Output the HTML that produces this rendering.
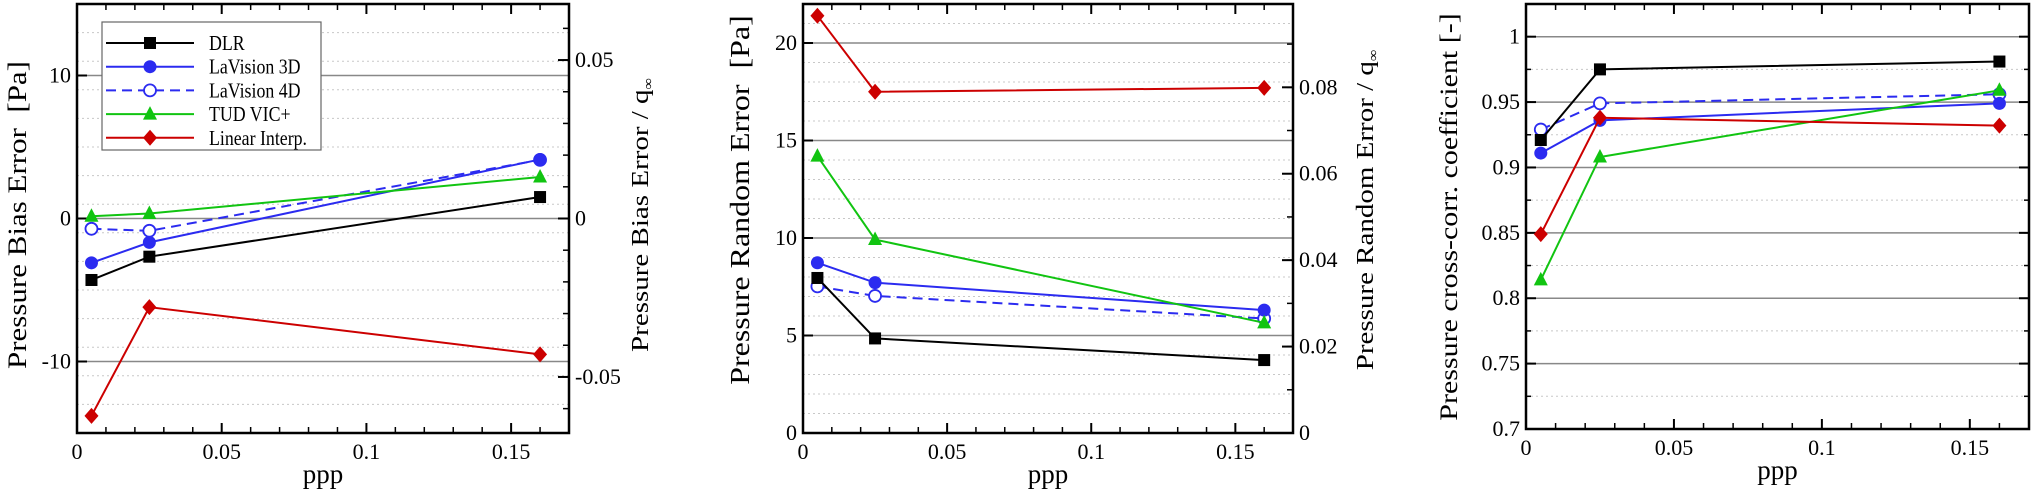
<!DOCTYPE html>
<html><head><meta charset="utf-8">
<style>
html,body{margin:0;padding:0;background:#fff;}
svg{display:block;font-family:"Liberation Serif","DejaVu Serif",serif;}
</style></head>
<body>
<svg id="fig" width="2032" height="489" viewBox="0 0 2032 489" xmlns="http://www.w3.org/2000/svg"></svg>
<script>
const ppp = [0.005, 0.025, 0.16];
const seriesNames = ["DLR","LaVision 3D","LaVision 4D","TUD VIC+","Linear Interp."];
// Panel 1: bias error [Pa]
const biasDLR = [-4.3, -2.67, 1.5];
const biasLa3D = [-3.1, -1.67, 4.13];
const biasLa4D = [-0.72, -0.86, 4.1];
const biasTUD = [0.16, 0.35, 2.9];
const biasLin = [-13.8, -6.2, -9.5];
// Panel 2: random error [Pa]
const randDLR = [7.95, 4.85, 3.74];
const randLa3D = [8.73, 7.71, 6.3];
const randLa4D = [7.52, 7.03, 5.87];
const randTUD = [14.2, 9.92, 5.65];
const randLin = [21.4, 17.5, 17.7];
// Panel 3: cross-correlation
const corrDLR = [0.921, 0.975, 0.981];
const corrLa3D = [0.911, 0.936, 0.949];
const corrLa4D = [0.929, 0.949, 0.956];
const corrTUD = [0.814, 0.908, 0.959];
const corrLin = [0.849, 0.938, 0.932];
const xTicks = ["0","0.05","0.1","0.15"];
const biasTicks = ["-10","0","10"];
const biasRightTicks = ["-0.05","0","0.05"];
const randTicks = ["0","5","10","15","20"];
const randRightTicks = ["0","0.02","0.04","0.06","0.08"];
const corrTicks = ["0.7","0.75","0.8","0.85","0.9","0.95","1"];

const NS="http://www.w3.org/2000/svg";
const svg=document.getElementById('fig');
function mk(tag,attrs,parent){const e=document.createElementNS(NS,tag);for(const k in attrs)e.setAttribute(k,attrs[k]);(parent||svg).appendChild(e);return e;}

const styles=[
 {color:"#000000",marker:"square",dash:null,fill:true},
 {color:"#2b2bf0",marker:"circle",dash:null,fill:true},
 {color:"#2b2bf0",marker:"circle",dash:"10,6",fill:false},
 {color:"#11c411",marker:"triangle",dash:null,fill:true},
 {color:"#cc0000",marker:"diamond",dash:null,fill:true}
];
const drawOrder=[2,0,1,3,4];

function marker(g,type,x,y,c,fill){
  let e;
  if(type==="square") e=mk('rect',{x:x-6,y:y-6,width:12,height:12,fill:c},g);
  else if(type==="circle") e=mk('circle',{cx:x,cy:y,r:fill?6.5:6,fill:fill?c:"#fff",stroke:c,"stroke-width":fill?0:1.8},g);
  else if(type==="triangle") e=mk('polygon',{points:`${x},${y-8} ${x+7},${y+5.5} ${x-7},${y+5.5}`,fill:c},g);
  else e=mk('polygon',{points:`${x},${y-8} ${x+7},${y} ${x},${y+8} ${x-7},${y}`,fill:c},g);
  
  
  return e;
}

function vtext(g,x,y,size,html,name){
  const t=mk('text',{transform:`translate(${x},${y}) rotate(-90) scale(1,0.85)`,"text-anchor":"middle","font-size":size},g);
  t.innerHTML=html;
  
  
  return t;
}

function panel(o){
  const g=mk('g',{});
  
  
  const L=o.left,R=o.right,T=o.top,B=o.bottom;
  const sx=v=>L+(v-0)/(0.17)*(R-L);
  const sy=v=>B-(v-o.ymin)/(o.ymax-o.ymin)*(B-T);
  for(let v=o.ymin;v<=o.ymax+1e-9;v+=o.minor){
    const y=sy(v);
    mk('line',{x1:L,x2:R,y1:y,y2:y,stroke:"#c8c8c8","stroke-width":1,"stroke-dasharray":"2,3"},g);
  }
  o.yTicks.forEach(t=>{const y=sy(parseFloat(t));
    const l=mk('line',{x1:L,x2:R,y1:y,y2:y,stroke:"#888","stroke-width":1.5},g);
    
    
    mk('line',{x1:L,x2:L+10,y1:y,y2:y,stroke:"#000","stroke-width":2},g);
    if(!o.rightTicks) mk('line',{x1:R,x2:R-10,y1:y,y2:y,stroke:"#000","stroke-width":2},g);
    const tx=mk('text',{x:L-6,y:y+7,"text-anchor":"end","font-size":22},g);tx.textContent=t;
    
    
  });
  if(!o.rightTicks){
    for(let v=o.ymin;v<=o.ymax+1e-9;v+=o.minor){const y=sy(v);
      mk('line',{x1:L,x2:L+5,y1:y,y2:y,stroke:"#000","stroke-width":1.5},g);
      mk('line',{x1:R,x2:R-5,y1:y,y2:y,stroke:"#000","stroke-width":1.5},g);}
  }
  if(o.rightTicks){
    const q=o.q;
    for(let v=o.rmin;v<=o.rmax+1e-9;v+=0.01){const y=sy(v*q);
      if(y<T-0.5||y>B+0.5)continue;
      mk('line',{x1:R,x2:R-6,y1:y,y2:y,stroke:"#000","stroke-width":1.5},g);}
    o.rightTicks.forEach(t=>{const y=sy(parseFloat(t)*q);
      mk('line',{x1:R,x2:R-11,y1:y,y2:y,stroke:"#000","stroke-width":2},g);
      const tx=mk('text',{x:R+6,y:y+7,"text-anchor":"start","font-size":22},g);tx.textContent=t;
      
      
    });
    vtext(g,o.rlabX,o.rlabY,o.rsize,o.rlabel+' / q<tspan font-size="16" dy="5">∞</tspan>','right-axis-title');
  }
  for(let i=0;i<=17;i++){const x=sx(i*0.01);const big=i%5===0;
    mk('line',{x1:x,x2:x,y1:B,y2:B-(big?10:6),stroke:"#000","stroke-width":big?2:1.5},g);
    mk('line',{x1:x,x2:x,y1:T,y2:T+(big?10:6),stroke:"#000","stroke-width":big?2:1.5},g);}
  xTicks.forEach(t=>{const x=sx(parseFloat(t));
    const tx=mk('text',{x:x,y:B+26,"text-anchor":"middle","font-size":22},g);tx.textContent=t;
    
    });
  const xl=mk('text',{x:(L+R)/2,y:B+50,"text-anchor":"middle","font-size":27},g);xl.textContent="ppp";
  
  
  vtext(g,o.ylabX,o.ylabY,o.ysize,o.ylabel,'y-axis-title');
  const fr=mk('rect',{x:L,y:T,width:R-L,height:B-T,fill:"none",stroke:"#000","stroke-width":2.5},g);
  
  
  drawOrder.forEach(i=>{
    const vals=o.series[i];
    const s=styles[i];
    const sg=mk('g',{},g);
    
    
    const pts=vals.map((v,j)=>sx(ppp[j])+','+sy(v)).join(' ');
    const pl=mk('polyline',{points:pts,fill:"none",stroke:s.color,"stroke-width":2},sg);
    if(s.dash)pl.setAttribute('stroke-dasharray',s.dash);
    vals.forEach((v,j)=>marker(sg,s.marker,sx(ppp[j]),sy(v),s.color,s.fill));
  });
}

panel({name:"bias-panel",left:77,right:569,top:4,bottom:433,ymin:-15,ymax:15,minor:2,
  yTicks:biasTicks,rightTicks:biasRightTicks,q:221.6,rmin:-0.06,rmax:0.06,
  ylabel:"Pressure Bias Error&#160;&#160;[Pa]",ylabX:26,ylabY:215,ysize:31,
  rlabel:"Pressure Bias Error",rlabX:648,rlabY:215,rsize:29,
  series:[biasDLR,biasLa3D,biasLa4D,biasTUD,biasLin]});
panel({name:"random-panel",left:803,right:1293,top:4,bottom:433,ymin:0,ymax:22,minor:1,
  yTicks:randTicks,rightTicks:randRightTicks,q:221.6,rmin:0,rmax:0.09,
  ylabel:"Pressure Random Error&#160;&#160;[Pa]",ylabX:749,ylabY:200,ysize:32,
  rlabel:"Pressure Random Error",rlabX:1373,rlabY:210,rsize:29,
  series:[randDLR,randLa3D,randLa4D,randTUD,randLin]});
panel({name:"correlation-panel",left:1526,right:2029,top:4,bottom:429,ymin:0.7,ymax:1.025,minor:0.025,
  yTicks:corrTicks,rightTicks:null,
  ylabel:"Pressure cross-corr. coefficient [-]",ylabX:1457,ylabY:217,ysize:30,
  series:[corrDLR,corrLa3D,corrLa4D,corrTUD,corrLin]});

const lg=mk('g',{});


mk('rect',{x:102,y:22,width:219,height:128,fill:"#fff",stroke:"#666","stroke-width":1.2},lg);
seriesNames.forEach((n,i)=>{
  const y=43+i*23.7, s=styles[i];
  const eg=mk('g',{},lg);
  
  
  const l=mk('line',{x1:106,x2:194,y1:y,y2:y,stroke:s.color,"stroke-width":2},eg);
  if(s.dash)l.setAttribute('stroke-dasharray',s.dash);
  marker(eg,s.marker,150,y,s.color,s.fill);
  const t=mk('text',{x:209,y:y+7,"font-size":21,transform:`translate(209,${y}) scale(0.85,1) translate(-209,${-y})`},eg);t.textContent=n;
});
</script>
</body></html>
